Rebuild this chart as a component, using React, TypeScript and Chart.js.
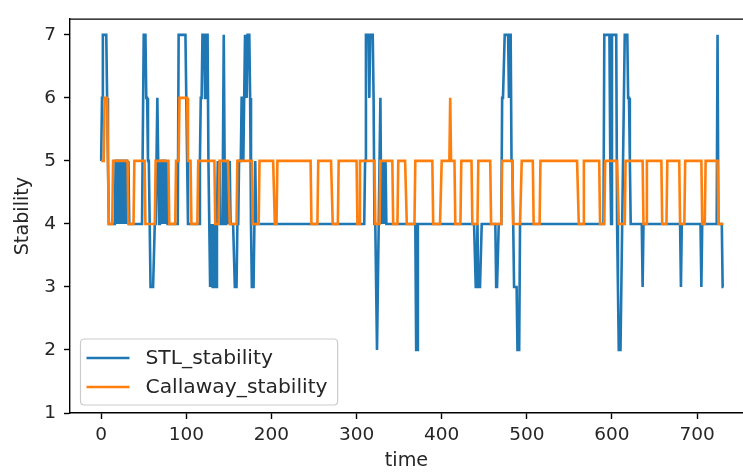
import React, { useEffect, useRef } from "react";
import { Chart, registerables } from "chart.js";

Chart.register(...registerables);

// ---- data ----
const lastTime = 731;

// STL_stability: time at which value changes, and the value held from then on
const stlTimes = [
  0, 1, 2, 7, 8, 9,
  17, 19, 20, 22, 23, 25, 26, 28, 29, 31, 32, 33,
  50, 53, 55, 57, 58, 63, 65, 66, 67, 68, 69, 70, 71, 73, 74, 76, 77, 78,
  91, 100, 101, 102,
  116, 117, 119, 122, 123, 126, 127, 128, 130, 131, 133, 134, 136, 137, 138, 139, 140,
  143, 144, 145, 146, 148, 149, 151, 152,
  157, 160, 162, 165, 167, 168, 169, 171, 172, 175, 176, 177, 180, 181, 182,
  310, 311, 315, 316, 320, 321, 323, 324, 326, 327, 328, 329, 330, 331, 332, 333, 334, 335,
  370, 372,
  440, 442, 443, 447,
  464, 467,
  471, 474, 479, 480, 482, 484, 485, 489, 492,
  591, 598, 599, 600, 606, 607, 608, 611, 612, 613, 615, 619, 621, 622,
  636, 637,
  681, 682,
  705, 706,
  724, 725,
  730,
];
const stlValues = [
  5, 6, 7, 6, 5, 4,
  5, 4, 5, 4, 5, 4, 5, 4, 5, 4, 5, 4,
  7, 6, 5, 4, 3, 4, 5, 6, 5, 4, 5, 4, 5, 4, 5, 4, 5, 4,
  7, 6, 5, 4,
  5, 6, 7, 6, 7, 5, 4, 3, 4, 3, 4, 3, 4, 5, 4, 5, 4,
  5, 7, 5, 4, 5, 4, 5, 4,
  3, 4, 5, 6, 5, 6, 7, 6, 7, 6, 4, 3, 4, 5, 4,
  5, 7, 6, 7, 6, 4, 3, 2, 4, 5, 6, 4, 5, 4, 5, 4, 5, 4,
  2, 4,
  3, 4, 3, 4,
  3, 4,
  6, 7, 6, 7, 5, 4, 3, 2, 4,
  7, 5, 4, 7, 4, 3, 2, 3, 4, 5, 7, 6, 5, 4,
  3, 4,
  3, 4,
  3, 4,
  7, 4,
  3,
];

// Callaway_stability
const callawayTimes = [
  0, 4, 9, 14, 32, 39, 52, 64, 80, 88, 92, 102, 106, 114, 134, 139, 151, 160,
  178, 186, 204, 207, 247, 255, 272, 279, 301, 304, 322, 328, 343, 349, 359, 369,
  390, 400, 410, 411, 416, 423, 436, 443, 458, 471, 484, 494, 508, 516, 561, 567,
  586, 592, 608, 616, 637, 641, 659, 665, 680, 686, 706, 710, 725,
];
const callawayValues = [
  5, 6, 4, 5, 4, 5, 4, 5, 4, 5, 6, 5, 4, 5, 4, 5, 4, 5,
  4, 5, 4, 5, 4, 5, 4, 5, 4, 5, 4, 5, 4, 5, 4, 5,
  4, 5, 6, 5, 4, 5, 4, 5, 4, 5, 4, 5, 4, 5, 4, 5,
  4, 5, 4, 5, 4, 5, 4, 5, 4, 5, 4, 5, 4,
];

const xTickValues = [0, 100, 200, 300, 400, 500, 600, 700];
const yTickValues = [1, 2, 3, 4, 5, 6, 7];
const seriesLabels = ["STL_stability", "Callaway_stability"];
const seriesColors = ["#1f77b4", "#ff7f0e"];

function expand(times: number[], values: number[], end: number) {
  const pts: { x: number; y: number }[] = [];
  let k = 0;
  for (let t = 0; t <= end; t++) {
    while (k + 1 < times.length && times[k + 1] <= t) k++;
    pts.push({ x: t, y: values[k] });
  }
  return pts;
}

const FONT = "DejaVu Sans";
const FS = 18.5;
const FS_TITLE = 19.2;
const FS_LEGEND = 20.3;
const LW = 2.6;
const TEXT = "#262626";

const framePlugin = {
  id: "frameLegend",
  afterDraw(chart: any) {
    const { ctx, chartArea } = chart;
    const { left, top, right, bottom } = chartArea;
    ctx.save();
    ctx.strokeStyle = "#000";
    ctx.lineWidth = 1.4;
    ctx.beginPath();
    ctx.moveTo(left - 0.7, top);
    ctx.lineTo(right + 2, top);
    ctx.stroke();

    // legend (lower left, matplotlib style)
    ctx.font = `${FS_LEGEND}px "${FONT}"`;
    const textW = Math.max(...seriesLabels.map((s) => ctx.measureText(s).width));
    const bx = left + 10.5;
    const bh = 66;
    const by = bottom - 8 - bh;
    const handleLen = 43;
    const bw = 6 + handleLen + 16 + textW + 10;
    const r = 4;
    ctx.beginPath();
    ctx.moveTo(bx + r, by);
    ctx.lineTo(bx + bw - r, by);
    ctx.quadraticCurveTo(bx + bw, by, bx + bw, by + r);
    ctx.lineTo(bx + bw, by + bh - r);
    ctx.quadraticCurveTo(bx + bw, by + bh, bx + bw - r, by + bh);
    ctx.lineTo(bx + r, by + bh);
    ctx.quadraticCurveTo(bx, by + bh, bx, by + bh - r);
    ctx.lineTo(bx, by + r);
    ctx.quadraticCurveTo(bx, by, bx + r, by);
    ctx.closePath();
    ctx.fillStyle = "rgba(255,255,255,0.8)";
    ctx.fill();
    ctx.strokeStyle = "#cccccc";
    ctx.lineWidth = 1.2;
    ctx.stroke();

    seriesLabels.forEach((lab, i) => {
      const cy = by + 19 + i * 29;
      ctx.strokeStyle = seriesColors[i];
      ctx.lineWidth = LW;
      ctx.beginPath();
      ctx.moveTo(bx + 6, cy);
      ctx.lineTo(bx + 6 + handleLen, cy);
      ctx.stroke();
      ctx.fillStyle = TEXT;
      ctx.textBaseline = "middle";
      ctx.textAlign = "left";
      ctx.fillText(lab, bx + 6 + handleLen + 16, cy + 1);
    });
    ctx.restore();
  },
};

export default function App() {
  const ref = useRef<HTMLCanvasElement | null>(null);
  useEffect(() => {
    document.body.style.margin = "0";
    document.body.style.overflow = "hidden";
    const canvas = ref.current!;
    const chart = new Chart(canvas, {
      type: "line",
      data: {
        datasets: [
          {
            label: seriesLabels[0],
            data: expand(stlTimes, stlValues, lastTime),
            borderColor: seriesColors[0],
            borderWidth: LW,
            pointRadius: 0,
            tension: 0,
            order: 1,
          },
          {
            label: seriesLabels[1],
            data: expand(callawayTimes, callawayValues, lastTime),
            borderColor: seriesColors[1],
            borderWidth: LW,
            pointRadius: 0,
            tension: 0,
            order: 0,
          },
        ],
      },
      options: {
        animation: false,
        responsive: false,
        events: [],
        layout: { padding: { top: 9, right: 0, left: 0, bottom: 0 } },
        plugins: { legend: { display: false }, tooltip: { enabled: false } },
        scales: {
          x: {
            type: "linear",
            min: -36.6,
            max: 753.9,
            afterBuildTicks: (s: any) => {
              s.ticks = xTickValues.map((v) => ({ value: v }));
            },
            afterFit: (s: any) => {
              s.height = 60;
            },
            grid: {
              drawOnChartArea: false,
              drawTicks: true,
              tickLength: 6,
              tickColor: "#000",
              tickWidth: 1.4,
            },
            border: { display: true, color: "#000", width: 1.4 },
            ticks: {
              color: TEXT,
              font: { family: FONT, size: FS },
              padding: 5,
              maxRotation: 0,
              autoSkip: false,
            },
            title: {
              display: true,
              text: "time",
              color: TEXT,
              font: { family: FONT, size: FS_TITLE },
              padding: { top: 0, bottom: 0 },
            },
          },
          y: {
            type: "linear",
            min: 1,
            max: 7.25,
            afterBuildTicks: (s: any) => {
              s.ticks = yTickValues.map((v) => ({ value: v }));
            },
            afterFit: (s: any) => {
              s.width = 70;
            },
            grid: {
              drawOnChartArea: false,
              drawTicks: true,
              tickLength: 6,
              tickColor: "#000",
              tickWidth: 1.4,
            },
            border: { display: true, color: "#000", width: 1.4 },
            ticks: {
              color: TEXT,
              font: { family: FONT, size: FS },
              padding: 8,
              autoSkip: false,
            },
            title: {
              display: true,
              text: "Stability",
              color: TEXT,
              font: { family: FONT, size: FS_TITLE },
              padding: { top: 11, bottom: 0 },
            },
          },
        },
      },
      plugins: [framePlugin],
    });
    return () => chart.destroy();
  }, []);
  return (
    <canvas
      ref={ref}
      width={743}
      height={473}
      style={{ display: "block", width: 743, height: 473 }}
    />
  );
}
